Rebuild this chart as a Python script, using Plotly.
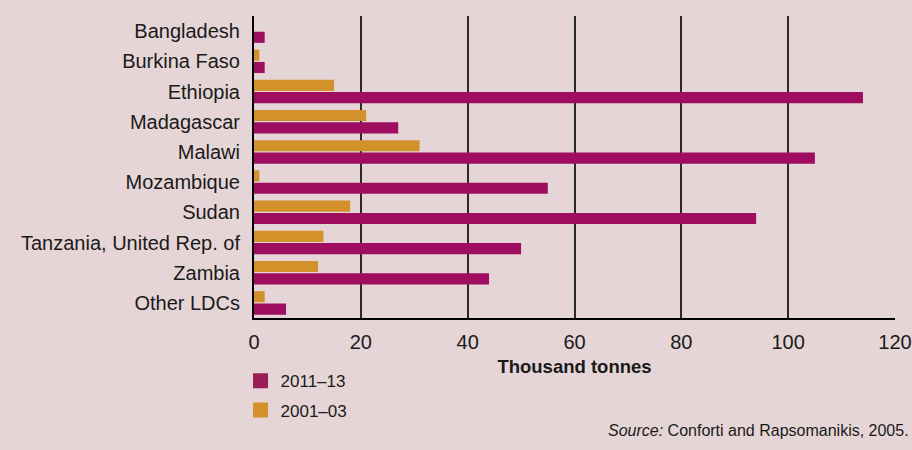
import plotly.graph_objects as go

countries = ["Bangladesh", "Burkina Faso", "Ethiopia", "Madagascar", "Malawi",
             "Mozambique", "Sudan", "Tanzania, United Rep. of", "Zambia", "Other LDCs"]
val_2001_03 = [0, 1, 15, 21, 31, 1, 18, 13, 12, 2]
val_2011_13 = [2, 2, 114, 27, 105, 55, 94, 50, 44, 6]
x_ticks = [0, 20, 40, 60, 80, 100, 120]
series_names = ["2011–13", "2001–03"]

BG = "#e6d5d6"
MAGENTA = "#9e0d5f"
ORANGE = "#d2912a"
FONT = "Liberation Sans, Arial, Helvetica, sans-serif"

fig = go.Figure()
fig.add_trace(go.Bar(y=countries, x=val_2001_03, orientation="h", name=series_names[1],
                     marker=dict(color=ORANGE, line=dict(width=0)), showlegend=False))
fig.add_trace(go.Bar(y=countries, x=val_2011_13, orientation="h", name=series_names[0],
                     marker=dict(color=MAGENTA, line=dict(width=0)), showlegend=False))

# legend entries (square swatches)
for nm, col, rank in [(series_names[0], "#9a1d55", 1), (series_names[1], ORANGE, 2)]:
    fig.add_trace(go.Scatter(x=[None], y=[None], mode="markers", name=nm,
                             marker=dict(symbol="square", size=15, color=col),
                             legendrank=rank, legendgroup=nm))

fig.update_layout(
    width=912, height=450,
    paper_bgcolor=BG, plot_bgcolor=BG,
    margin=dict(l=254, r=17, t=16, b=132),
    barmode="group", bargap=0.18, bargroupgap=0.1,
    font=dict(family=FONT, color="#1a1a1a", size=20),
    showlegend=True,
    legend=dict(x=-0.021, y=-0.15, xanchor="left", yanchor="top",
                orientation="v", bgcolor="rgba(0,0,0,0)",
                font=dict(size=17), tracegroupgap=4, itemwidth=30),
    xaxis=dict(range=[0, 120], tickvals=x_ticks, showgrid=True, automargin=False,
               gridcolor="#2a2a2a", gridwidth=1.6, zeroline=False,
               showline=True, linecolor="#000000", linewidth=2,
               ticks="", ticklabelstandoff=5, tickfont=dict(size=20),
               title=dict(text="<b>Thousand tonnes</b>", font=dict(size=18.5), standoff=8)),
    yaxis=dict(autorange="reversed", showgrid=False, zeroline=False, automargin=False,
               showline=True, linecolor="#000000", linewidth=2,
               ticks="", ticklabelstandoff=8, tickfont=dict(size=20)),
    annotations=[dict(text="<i>Source:</i> Conforti and Rapsomanikis, 2005.",
                      xref="paper", yref="paper", x=1.025, y=-0.371,
                      xanchor="right", yanchor="middle", showarrow=False,
                      font=dict(size=16))],
)

fig.write_html("out.html", config={"displayModeBar": False},
               post_script="document.body.style.margin='0';")
